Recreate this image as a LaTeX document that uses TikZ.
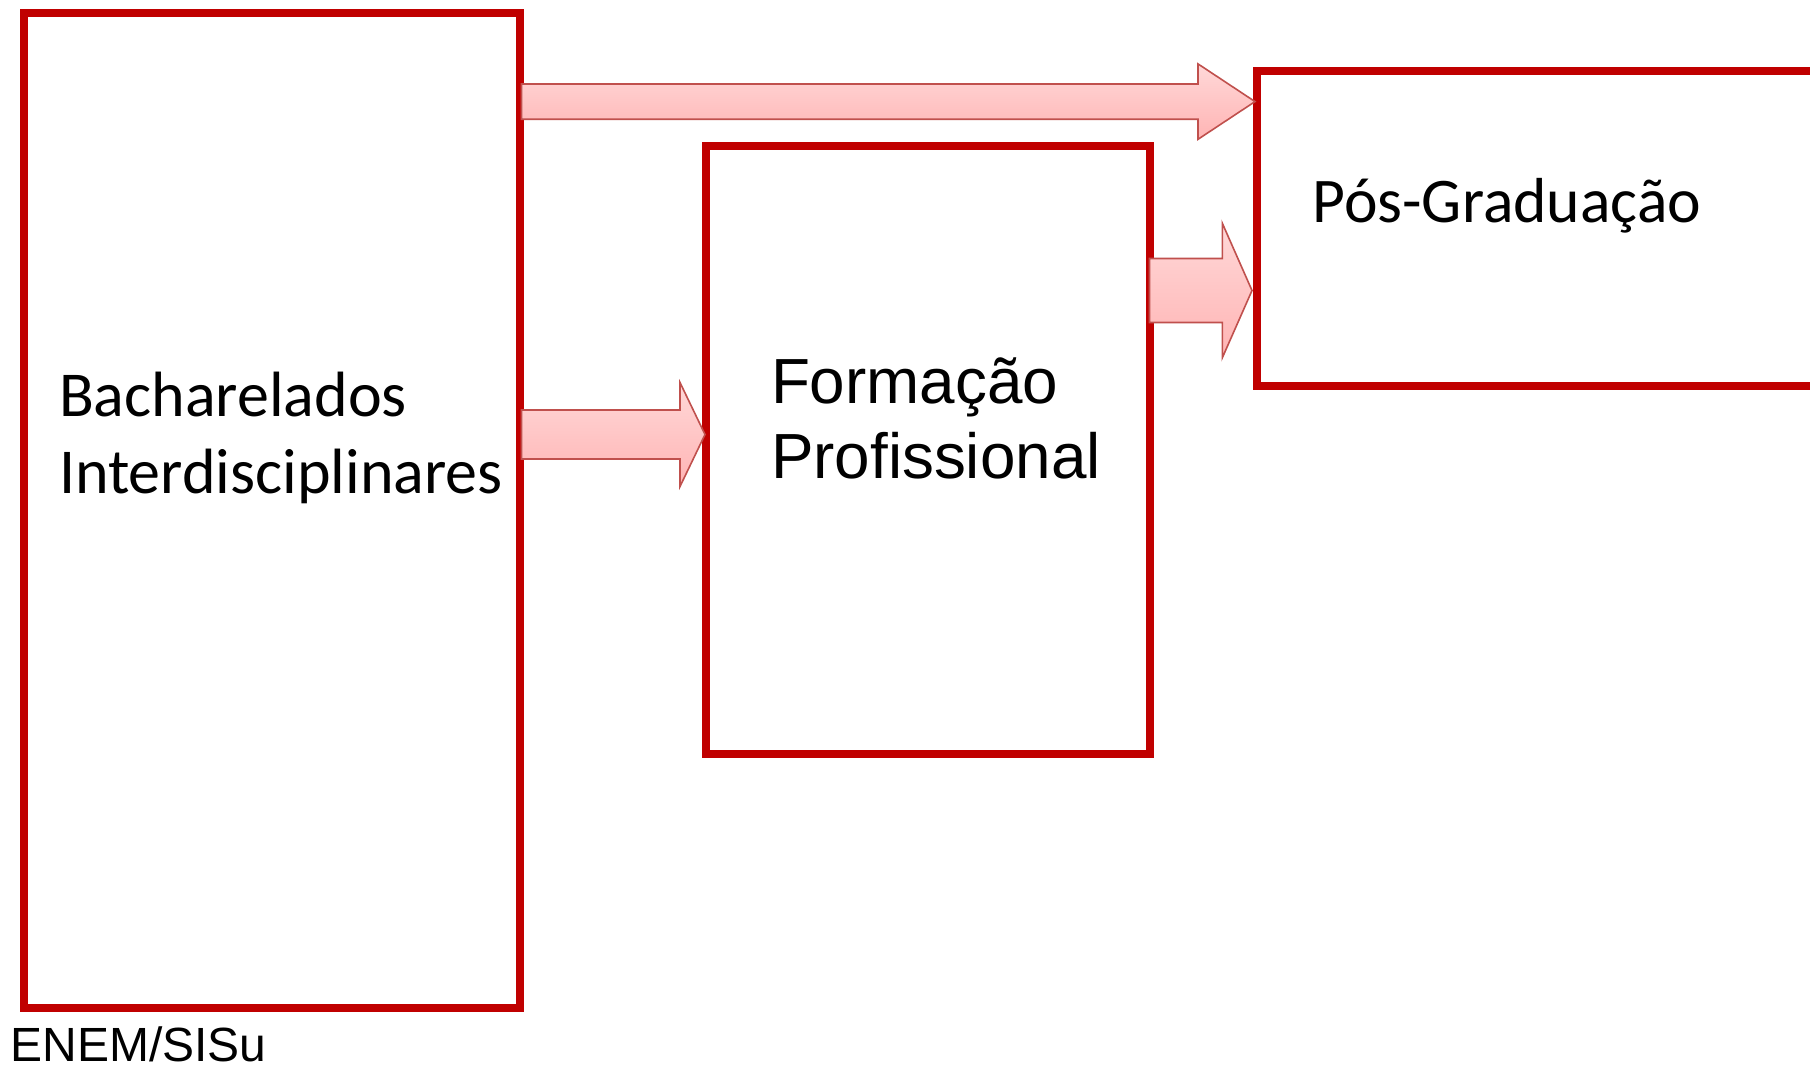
\documentclass[tikz,border=0pt]{standalone}
\usepackage{fontspec}
\setmainfont{Carlito}
\newfontfamily\arialf{Liberation Sans}
\usetikzlibrary{calc}
\definecolor{boxred}{RGB}{192,0,0}
\definecolor{arrline}{RGB}{192,80,77}
\definecolor{arrtop}{RGB}{255,216,216}
\definecolor{arrbot}{RGB}{255,180,180}
\tikzset{
  bigbox/.style={draw=boxred, line width=8pt, fill=none, rectangle, inner sep=0pt, outer sep=0pt},
  blockarr/.style={top color=arrtop, bottom color=arrbot, draw=arrline, line width=1.6pt, line join=miter},
  labeltxt/.style={inner sep=0pt, outer sep=0pt, anchor=base west, align=left, text=black}
}
% #1 tail, #2 tip, #3 shaft half width, #4 head half width, #5 head length
\newcommand{\blockarrow}[5]{%
  \shadedraw[blockarr]
    ($(#1)+(0,-#3)$) -- ($(#2)+(-#5,-#3)$) -- ($(#2)+(-#5,-#4)$) -- (#2)
    -- ($(#2)+(-#5,#4)$) -- ($(#2)+(-#5,#3)$) -- ($(#1)+(0,#3)$) -- cycle;}
\begin{document}
\begin{tikzpicture}[x=1pt,y=-1pt]
\useasboundingbox[fill=white] (0,0) rectangle (1810,1068);
% boxes
\node[bigbox, minimum width=496pt, minimum height=995pt] (bi) at (272,510.5) {};
\node[bigbox, minimum width=443.5pt, minimum height=608pt] (fp) at (927.75,450) {};
\node[bigbox, minimum width=583pt, minimum height=315pt] (pg) at (1548.5,228.5) {};
% labels (base anchor = baseline of the last line)
\node[labeltxt, font=\fontsize{64}{77}\selectfont] (tbi) at (59,493) {Bacharelados\\Interdisciplinares};
\node[labeltxt, font=\arialf\fontsize{63.8}{75}\selectfont] (tfp) at (771,478) {Formação\\Profissional};
\node[labeltxt, font=\fontsize{63.6}{70}\selectfont] (tpg) at (1312.5,222.5) {Pós-Graduação};
\node[labeltxt, font=\arialf\fontsize{48}{55}\selectfont] (tenem) at (10.5,1061) {ENEM/SISu};
% arrow end points
\coordinate (a1s) at ($(bi.east |- 0,101.6)+(1.5,0)$);
\coordinate (a1e) at ($(pg.west |- 0,101.6)+(-2,0)$);
\coordinate (a2s) at ($(bi.east |- 0,434.5)+(1.5,0)$);
\coordinate (a2e) at ($(fp.west |- 0,434.5)+(-1,0)$);
\coordinate (a3s) at ($(fp.east |- 0,290.5)+(0,0)$);
\coordinate (a3e) at ($(pg.west |- 0,290.5)+(-5,0)$);
% arrows
\blockarrow{a1s}{a1e}{17.6}{37.7}{57}
\blockarrow{a2s}{a2e}{24.5}{52}{25}
\blockarrow{a3s}{a3e}{32}{67.3}{29.7}
\end{tikzpicture}
\end{document}
